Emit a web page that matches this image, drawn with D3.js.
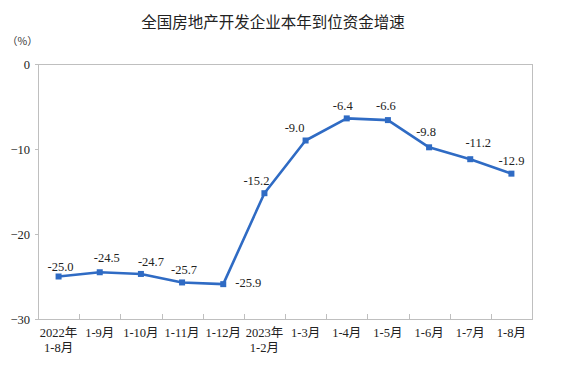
<!DOCTYPE html>
<html><head><meta charset="utf-8">
<script src="https://cdn.jsdelivr.net/npm/d3@7"></script>
<style>body{margin:0;background:#fff;}svg{display:block;}</style>
</head><body>
<svg id="c" width="562" height="366"></svg>
<script>
const categories = ["2022年\n1-8月","1-9月","1-10月","1-11月","1-12月","2023年\n1-2月","1-3月","1-4月","1-5月","1-6月","1-7月","1-8月"];
const values = [-25.0,-24.5,-24.7,-25.7,-25.9,-15.2,-9.0,-6.4,-6.6,-9.8,-11.2,-12.9];
const yTicks = [0,-10,-20,-30];
const title = "全国房地产开发企业本年到位资金增速";
const unit = "（%）";
// label placement offsets (dx, dy) relative to each point
const labelOffsets = [[2,-10],[7,-14],[10,-12],[2,-12],[25,-1],[-8,-12],[-11,-13],[-4,-12],[-2,-14],[-3,-15],[8,-16],[0,-13]];

const svg = d3.select("#c");
const L=38,R=532,T=64,B=319;
const serif = "'Liberation Serif','Times New Roman','Noto Sans CJK SC',serif";
const x = d3.scaleBand().domain(categories).range([L,R]);
const y = d3.scaleLinear().domain([-30,0]).range([B,T]);

svg.append("text").attr("x",273).attr("y",28).attr("text-anchor","middle")
  .attr("font-family","'Noto Sans CJK SC',sans-serif").attr("font-size",15.5).attr("font-weight",400)
  .attr("fill","#222").text(title);
svg.append("text").attr("x",7).attr("y",45).attr("font-family","'Noto Sans CJK SC',sans-serif")
  .attr("font-size",10.5).attr("fill","#333").text(unit);

// frame
const gray="#bfbfbf";
svg.append("rect").attr("x",L).attr("y",T).attr("width",R-L).attr("height",B-T)
  .attr("fill","none").attr("stroke",gray).attr("stroke-width",1).attr("shape-rendering","crispEdges");

// y axis
const ya = svg.append("g").attr("transform",`translate(${L},0)`)
  .call(d3.axisLeft(y).tickValues(yTicks).tickSize(3).tickPadding(5).tickFormat(d3.format("d")));
ya.select(".domain").attr("stroke",gray);
ya.selectAll(".tick line").attr("stroke",gray);
ya.selectAll("text").attr("font-family",serif).attr("font-size",12.5).attr("fill","#222");

// x axis ticks at band boundaries (inward)
const xa = svg.append("g").attr("transform",`translate(0,${B})`);
xa.append("line").attr("x1",L).attr("x2",R).attr("stroke",gray).attr("shape-rendering","crispEdges");
categories.forEach((c,i)=>{ if(i>0){ const xx=Math.round(x(c))+0.5;
  xa.append("line").attr("x1",xx).attr("x2",xx).attr("y1",0).attr("y2",-5).attr("stroke",gray);} });
categories.forEach(c=>{
  const lines=c.split("\n");
  const t=xa.append("text").attr("text-anchor","middle").attr("font-family",serif)
    .attr("font-size",12.5).attr("fill","#222");
  lines.forEach((s,j)=>t.append("tspan").attr("x",x(c)+x.bandwidth()/2).attr("y",18+j*15).text(s));
});

// line
const cx = (d,i)=>x(categories[i])+x.bandwidth()/2;
const color="#2f6bc4";
svg.append("path").datum(values).attr("fill","none").attr("stroke",color).attr("stroke-width",2.6)
  .attr("stroke-linejoin","round")
  .attr("d",d3.line().x((d,i)=>cx(d,i)).y(d=>y(d)));
svg.selectAll(".m").data(values).join("rect").attr("class","m")
  .attr("x",(d,i)=>cx(d,i)-3).attr("y",d=>y(d)-3).attr("width",6).attr("height",6).attr("fill",color);
svg.selectAll(".lb").data(values).join("text").attr("class","lb")
  .attr("x",(d,i)=>cx(d,i)+labelOffsets[i][0]).attr("y",(d,i)=>y(d)+labelOffsets[i][1]+4)
  .attr("text-anchor","middle").attr("font-family",serif).attr("font-size",12.5).attr("fill","#222")
  .text(d=>d.toFixed(1));
</script>
</body></html>
